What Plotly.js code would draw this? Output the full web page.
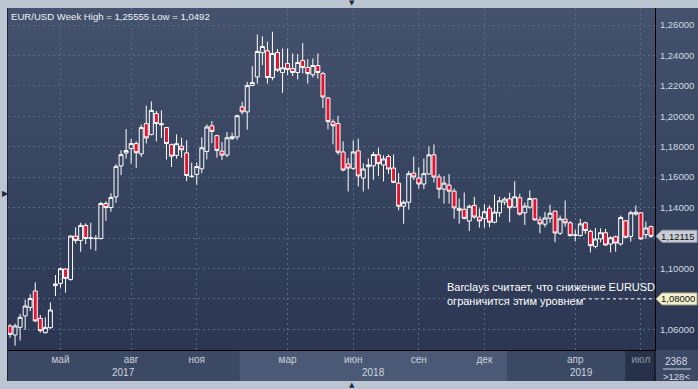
<!DOCTYPE html>
<html>
<head>
<meta charset="utf-8">
<script src="https://cdn.plot.ly/plotly-3.0.1.min.js"></script>
<style>
  html, body { margin: 0; padding: 0; background: #bcc6d3; }
  #wrap { position: relative; width: 698px; height: 389px; overflow: hidden; background: #bcc6d3; }
  #bg { position: absolute; left: 8px; top: 8px; width: 690px; height: 342px;
        background: linear-gradient(to bottom, #44526d 0%, #37445f 50%, #2b3752 100%); }
  #strip { position: absolute; left: 8px; top: 350px; width: 690px; height: 31px; background: #3c4965; }
  #edge { position: absolute; left: 7px; top: 8px; width: 1px; height: 373px; background: #1a2233; }
  #chart { position: absolute; left: 0; top: 0; width: 698px; height: 389px; }
</style>
</head>
<body>
<div id="wrap">
  <div id="bg"></div>
  <div id="strip"></div>
  <div id="edge"></div>
  <div id="chart"></div>
</div>
<script>
// ---- data (weekly EUR/USD candles) ----
const weeks = [
 "2017-02-20","2017-02-27","2017-03-06","2017-03-13","2017-03-20","2017-03-27","2017-04-03","2017-04-10","2017-04-17","2017-04-24",
 "2017-05-01","2017-05-08","2017-05-15","2017-05-22","2017-05-29","2017-06-05","2017-06-12","2017-06-19","2017-06-26","2017-07-03",
 "2017-07-10","2017-07-17","2017-07-24","2017-07-31","2017-08-07","2017-08-14","2017-08-21","2017-08-28","2017-09-04","2017-09-11",
 "2017-09-18","2017-09-25","2017-10-02","2017-10-09","2017-10-16","2017-10-23","2017-10-30","2017-11-06","2017-11-13","2017-11-20",
 "2017-11-27","2017-12-04","2017-12-11","2017-12-18","2017-12-25","2017-12-26","2018-01-01","2018-01-08","2018-01-15","2018-01-22",
 "2018-01-29","2018-02-05","2018-02-12","2018-02-19","2018-02-26","2018-03-05","2018-03-12","2018-03-19","2018-03-26","2018-04-02",
 "2018-04-09","2018-04-16","2018-04-23","2018-04-30","2018-05-07","2018-05-14","2018-05-21","2018-05-28","2018-06-04","2018-06-11",
 "2018-06-18","2018-06-25","2018-07-02","2018-07-09","2018-07-16","2018-07-23","2018-07-30","2018-08-06","2018-08-13","2018-08-20",
 "2018-08-27","2018-09-03","2018-09-10","2018-09-17","2018-09-24","2018-10-01","2018-10-08","2018-10-15","2018-10-22","2018-10-29",
 "2018-11-05","2018-11-12","2018-11-19","2018-11-26","2018-12-03","2018-12-10","2018-12-17","2018-12-24","2018-12-31","2019-01-01",
 "2019-01-07","2019-01-14","2019-01-21","2019-01-28","2019-02-04","2019-02-11","2019-02-18","2019-02-25","2019-03-04","2019-03-11",
 "2019-03-18","2019-03-25","2019-04-01","2019-04-08","2019-04-15","2019-04-22","2019-04-29","2019-05-06","2019-05-13","2019-05-20",
 "2019-05-27","2019-06-03","2019-06-10","2019-06-17","2019-06-24","2019-07-01","2019-07-08","2019-07-15"
];
const openP = [
 1.0622,1.0563,1.0613,1.0688,1.0744,1.0852,1.0672,1.0578,1.0611,1.0887,
 1.0902,1.0996,1.0928,1.1213,1.1184,1.1283,1.1199,1.1196,1.1197,1.1427,
 1.1400,1.1470,1.1674,1.1759,1.1788,1.1821,1.1753,1.1952,1.1880,1.2018,
 1.1952,1.1926,1.1814,1.1743,1.1804,1.1760,1.1604,1.1618,1.1655,1.1769,
 1.1938,1.1873,1.1771,1.1745,1.1853,1.1864,1.2062,1.2029,1.2202,1.2259,
 1.2418,1.2431,1.2255,1.2420,1.2288,1.2347,1.2314,1.2288,1.2367,1.2321,
 1.2273,1.2334,1.2281,1.2121,1.1963,1.1952,1.1766,1.1687,1.1658,1.1773,
 1.1594,1.1669,1.1674,1.1747,1.1680,1.1736,1.1660,1.1561,1.1409,1.1435,
 1.1627,1.1594,1.1555,1.1621,1.1747,1.1601,1.1521,1.1548,1.1508,1.1395,
 1.1389,1.1312,1.1415,1.1338,1.1327,1.1397,1.1304,1.1366,1.1436,1.1458,
 1.1403,1.1465,1.1366,1.1403,1.1458,1.1319,1.1291,1.1330,1.1377,1.1231,
 1.1324,1.1300,1.1218,1.1216,1.1300,1.1244,1.1145,1.1194,1.1235,1.1161,
 1.1209,1.1161,1.1313,1.1211,1.1357,1.1366,1.1222,1.1275
];
const highP = [
 1.0635,1.0637,1.0701,1.0795,1.0831,1.0909,1.0694,1.0679,1.0777,1.0957,
 1.1007,1.1000,1.1219,1.1270,1.1300,1.1296,1.1300,1.1219,1.1438,1.1442,
 1.1495,1.1685,1.1777,1.1917,1.1851,1.1836,1.1945,1.2070,1.2098,1.2035,
 1.2039,1.1930,1.1821,1.1881,1.1859,1.1842,1.1695,1.1697,1.1862,1.1947,
 1.1969,1.1879,1.1831,1.1897,1.1892,1.2011,1.2095,1.2226,1.2330,1.2538,
 1.2527,1.2490,1.2556,1.2442,1.2446,1.2446,1.2413,1.2409,1.2481,1.2376,
 1.2380,1.2413,1.2292,1.2127,1.1980,1.2003,1.1835,1.1727,1.1842,1.1853,
 1.1691,1.1722,1.1766,1.1793,1.1744,1.1749,1.1749,1.1627,1.1446,1.1641,
 1.1735,1.1665,1.1722,1.1802,1.1815,1.1621,1.1608,1.1621,1.1526,1.1460,
 1.1499,1.1420,1.1471,1.1395,1.1422,1.1415,1.1485,1.1471,1.1469,1.1498,
 1.1573,1.1491,1.1432,1.1513,1.1463,1.1341,1.1372,1.1419,1.1379,1.1348,
 1.1447,1.1311,1.1255,1.1326,1.1308,1.1255,1.1266,1.1264,1.1260,1.1211,
 1.1216,1.1348,1.1319,1.1381,1.1414,1.1370,1.1308,1.1282
];
const lowP = [
 1.0545,1.0493,1.0526,1.0596,1.0720,1.0648,1.0578,1.0572,1.0602,1.0819,
 1.0874,1.0841,1.0919,1.1164,1.1110,1.1160,1.1127,1.1116,1.1190,1.1313,
 1.1372,1.1431,1.1613,1.1722,1.1689,1.1661,1.1733,1.1821,1.1875,1.1836,
 1.1858,1.1716,1.1667,1.1721,1.1728,1.1574,1.1596,1.1550,1.1626,1.1717,
 1.1824,1.1728,1.1714,1.1732,1.1846,1.1846,1.2013,1.1912,1.2200,1.2215,
 1.2336,1.2215,1.2237,1.2292,1.2154,1.2270,1.2264,1.2242,1.2281,1.2215,
 1.2255,1.2248,1.2055,1.1914,1.1815,1.1747,1.1638,1.1506,1.1647,1.1539,
 1.1506,1.1521,1.1583,1.1608,1.1572,1.1621,1.1561,1.1382,1.1294,1.1387,
 1.1581,1.1526,1.1521,1.1616,1.1566,1.1460,1.1426,1.1426,1.1327,1.1294,
 1.1323,1.1246,1.1327,1.1268,1.1268,1.1271,1.1297,1.1339,1.1416,1.1304,
 1.1399,1.1348,1.1286,1.1392,1.1315,1.1231,1.1271,1.1300,1.1172,1.1220,
 1.1275,1.1209,1.1178,1.1209,1.1227,1.1105,1.1132,1.1172,1.1150,1.1105,
 1.1110,1.1150,1.1198,1.1176,1.1348,1.1187,1.1194,1.1200
];
const closeP = [
 1.0567,1.0622,1.0679,1.0753,1.0803,1.0655,1.0591,1.0613,1.0727,1.0898,
 1.0998,1.0935,1.1213,1.1184,1.1283,1.1197,1.1201,1.1198,1.1427,1.1400,
 1.1467,1.1671,1.1748,1.1775,1.1821,1.1761,1.1926,1.1858,1.2039,1.1952,
 1.1945,1.1821,1.1738,1.1820,1.1780,1.1611,1.1606,1.1670,1.1793,1.1930,
 1.1901,1.1776,1.1745,1.1859,1.1866,1.2004,1.2029,1.2202,1.2222,1.2426,
 1.2459,1.2255,1.2413,1.2303,1.2319,1.2308,1.2288,1.2354,1.2321,1.2281,
 1.2334,1.2288,1.2127,1.1965,1.1938,1.1764,1.1647,1.1660,1.1766,1.1608,
 1.1654,1.1680,1.1749,1.1689,1.1720,1.1654,1.1566,1.1409,1.1435,1.1623,
 1.1601,1.1555,1.1623,1.1747,1.1601,1.1521,1.1561,1.1508,1.1398,1.1382,
 1.1329,1.1409,1.1338,1.1312,1.1373,1.1304,1.1370,1.1445,1.1456,1.1399,
 1.1471,1.1357,1.1410,1.1460,1.1319,1.1293,1.1332,1.1363,1.1233,1.1326,
 1.1300,1.1216,1.1220,1.1293,1.1249,1.1150,1.1194,1.1235,1.1154,1.1202,
 1.1167,1.1335,1.1205,1.1366,1.1370,1.1194,1.1266,1.12115
];
// month ticks (first Monday candle of each labelled month) and their labels
const tickWeeks  = ["2017-05-01","2017-08-07","2017-11-06","2018-03-05","2018-06-04","2018-09-03","2018-12-03","2019-04-01","2019-07-01"];
const tickLabels = ["май","авг","ноя","мар","июн","сен","дек","апр","июл"];
// price levels on the right axis
const priceLevels = [1.06, 1.08, 1.10, 1.12, 1.14, 1.16, 1.18, 1.20, 1.22, 1.24, 1.26];
const yearLabels = ["2017","2018","2019"];
const yearStart  = ["2017-02-20","2018-01-01","2019-01-01"];
const lastPrice  = 1.12115;
const targetLevel = 1.08;
const headerText = "EUR/USD Week High = 1,25555 Low = 1,0492";
const noteText = "Barclays считает, что снижение EURUSD<br>ограничится этим уровнем";
const cornerTop = "2368", cornerBottom = ">128<";

// ---- build ----
const FONT = "Liberation Sans, Arial, sans-serif";
const idx = d => weeks.indexOf(d);
const nW = weeks.length;
const yr = [idx(yearStart[0]) - 0.4, idx(yearStart[1]) - 0.5, idx(yearStart[2]) - 0.5, nW - 1 + 0.8];
const fmt = v => v.toFixed(5).replace('.', ',');
const tagged = [lastPrice, targetLevel];
const priceText = priceLevels.map(v => tagged.some(t => Math.abs(t - v) < 0.005) ? '' : fmt(v));
// the current (last) month label is dimmed
const monthText = tickLabels.map((t, k) => k === tickLabels.length - 1 ? '<span style="color:#8e98a8">' + t + '</span>' : t);

const trace = {
  type: 'candlestick', x: weeks, open: openP, high: highP, low: lowP, close: closeP,
  increasing: {line: {color: '#ffffff', width: 1}, fillcolor: 'rgba(0,0,0,0)'},
  decreasing: {line: {color: '#ffffff', width: 1}, fillcolor: '#e3132e'},
  whiskerwidth: 0, hoverinfo: 'skip'
};

const stripBottom = -31 / 342;
const shapes = [
  {type: 'rect', xref: 'x', yref: 'paper', x0: yr[1], x1: yr[2], y0: stripBottom, y1: 0,
   fillcolor: '#4b5976', line: {width: 0}, layer: 'below'},
  {type: 'rect', xref: 'x', yref: 'paper', x0: idx("2019-06-03") + 0.9, x1: yr[3], y0: stripBottom, y1: 0,
   fillcolor: '#27324a', line: {width: 0}, layer: 'below'},
  {type: 'line', xref: 'paper', yref: 'paper', x0: 1, x1: 1, y0: stripBottom, y1: 0, line: {color: '#000', width: 1}},
  {type: 'line', xref: 'paper', yref: 'paper', xsizemode: 'pixel', xanchor: 1, x0: 8, x1: 36,
   y0: -19 / 342, y1: -19 / 342, line: {color: '#c8d0dc', width: 1}},
  {type: 'line', xref: 'paper', yref: 'y', x0: (583 - 8) / 647, x1: 1, y0: targetLevel, y1: targetLevel,
   line: {color: '#ffffff', width: 1, dash: 'dot'}, layer: 'above'},
  {type: 'path', xref: 'paper', yref: 'y', xsizemode: 'pixel', ysizemode: 'pixel', xanchor: 1, yanchor: lastPrice,
   path: 'M1,0 L7,6 L42,6 L42,-6 L7,-6 Z', fillcolor: '#c9ced6', line: {color: '#9aa3b0', width: 1}, layer: 'above'},
  {type: 'path', xref: 'paper', yref: 'y', xsizemode: 'pixel', ysizemode: 'pixel', xanchor: 1, yanchor: targetLevel,
   path: 'M1,0 L7,6 L42,6 L42,-6 L7,-6 Z', fillcolor: '#f3f0cc', line: {color: '#a8a68a', width: 1}, layer: 'above'}
];

const annotations = [
  {xref: 'paper', yref: 'paper', x: 0, y: 1, xanchor: 'left', yanchor: 'top', xshift: 1, yshift: -1,
   text: headerText, showarrow: false, font: {family: FONT, size: 9.6, color: '#eef1f6'}},
  {xref: 'paper', yref: 'y', x: (445 - 8) / 647, y: targetLevel, xanchor: 'left', yanchor: 'middle', yshift: 5,
   align: 'left', text: noteText, showarrow: false, font: {family: FONT, size: 11, color: '#ffffff'}},
  {xref: 'paper', yref: 'y', x: 1, y: lastPrice, xanchor: 'left', yanchor: 'middle', xshift: 4,
   text: fmt(lastPrice), showarrow: false, font: {family: FONT, size: 9.5, color: '#111111'}},
  {xref: 'paper', yref: 'y', x: 1, y: targetLevel, xanchor: 'left', yanchor: 'middle', xshift: 4,
   text: fmt(targetLevel), showarrow: false, font: {family: FONT, size: 9.5, color: '#111111'}},
  {xref: 'paper', yref: 'paper', x: 1, y: -11 / 342, xanchor: 'center', yanchor: 'middle', xshift: 21,
   text: cornerTop, showarrow: false, font: {family: FONT, size: 10, color: '#d4dae3'}},
  {xref: 'paper', yref: 'paper', x: 1, y: -26 / 342, xanchor: 'center', yanchor: 'middle', xshift: 21,
   text: cornerBottom, showarrow: false, font: {family: FONT, size: 9.5, color: '#d4dae3'}},
  {xref: 'paper', yref: 'paper', x: (352 - 8) / 647, y: 1, yanchor: 'bottom', yshift: -1,
   text: '▼', showarrow: false, font: {family: 'DejaVu Sans', size: 7, color: '#1d2a40'}},
  {xref: 'paper', yref: 'paper', x: (352 - 8) / 647, y: stripBottom, yanchor: 'top', yshift: 2,
   text: '▲', showarrow: false, font: {family: 'DejaVu Sans', size: 7, color: '#1d2a40'}},
  {xref: 'paper', yref: 'paper', x: 0, y: (350 - 193) / 342, xanchor: 'left', xshift: -8,
   text: '▶', showarrow: false, font: {family: 'DejaVu Sans', size: 8, color: '#1d2a40'}}
];
for (let k = 0; k < yearLabels.length; k++) {
  annotations.push({xref: 'x', yref: 'paper', x: (yr[k] + yr[k + 1]) / 2, y: -23 / 342, yanchor: 'middle',
    text: yearLabels[k], showarrow: false, font: {family: FONT, size: 10, color: '#d0d6df'}});
}

const gridCol = '#5a6984';
const layout = {
  width: 698, height: 389,
  margin: {l: 8, r: 43, t: 8, b: 39, pad: 0},
  paper_bgcolor: 'rgba(0,0,0,0)', plot_bgcolor: 'rgba(0,0,0,0)',
  separators: ', ', showlegend: false, hovermode: false,
  boxgap: 0.22, boxgroupgap: 0,
  xaxis: {type: 'category', categoryorder: 'trace', range: [-0.4, nW - 1 + 0.8],
    rangeslider: {visible: false}, tickmode: 'array', tickvals: tickWeeks, ticktext: monthText,
    showgrid: true, gridcolor: gridCol, gridwidth: 1, griddash: '2px,3px', ticks: '',
    tickfont: {family: FONT, size: 10, color: '#c9d0db'}, showline: true, linecolor: '#000', linewidth: 1,
    zeroline: false, fixedrange: true, tickangle: 0},
  yaxis: {side: 'right', range: [1.0464, 1.2712], tickmode: 'array', tickvals: priceLevels, ticktext: priceText,
    showgrid: true, gridcolor: gridCol, gridwidth: 1, griddash: '2px,3px', ticks: '',
    tickfont: {family: FONT, size: 9.5, color: '#d4dae3'}, showline: true, linecolor: '#000', linewidth: 1,
    zeroline: false, fixedrange: true, ticklabelstandoff: 2},
  shapes: shapes, annotations: annotations
};

Plotly.newPlot('chart', [trace], layout, {staticPlot: true, displayModeBar: false});
</script>
</body>
</html>
